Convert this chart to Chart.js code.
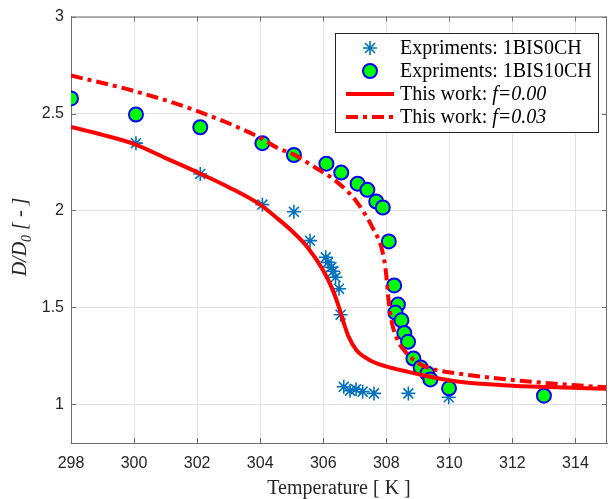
<!DOCTYPE html>
<html>
<head>
<meta charset="utf-8">
<script src="https://cdn.jsdelivr.net/npm/chart.js@4/dist/chart.umd.min.js"></script>
<style>
  html, body { margin: 0; padding: 0; background: #fff; overflow: hidden; }
  #wrap { width: 616px; height: 499px; }
</style>
</head>
<body>
<div id="wrap"><canvas id="chart" width="616" height="499"></canvas></div>
<script>
// tick labels
const xTicks = [298, 300, 302, 304, 306, 308, 310, 312, 314];
const yTicks = [1, 1.5, 2, 2.5, 3];

// Expriments: 1BIS0CH (stars)
const starX = [300.06, 302.1, 304.07, 305.07, 305.58, 306.08, 306.15, 306.26, 306.31, 306.39,
               306.5, 306.55, 306.65, 306.85, 307.04, 307.25, 307.61, 308.7, 309.98];
const starY = [2.347, 2.188, 2.03, 1.993, 1.844, 1.758, 1.732, 1.707, 1.686, 1.655,
               1.596, 1.462, 1.09, 1.07, 1.077, 1.065, 1.056, 1.056, 1.036];

// Expriments: 1BIS10CH (circles)
const circX = [298.0, 300.06, 302.1, 304.07, 305.07, 306.1, 306.57, 307.09, 307.4, 307.68,
               307.89, 308.08, 308.25, 308.37, 308.29, 308.48, 308.57, 308.69, 308.86, 309.09,
               309.3, 309.4, 309.99, 313.0];
const circY = [2.578, 2.495, 2.429, 2.347, 2.286, 2.241, 2.195, 2.138, 2.106, 2.046,
               2.015, 1.84, 1.613, 1.514, 1.473, 1.433, 1.368, 1.322, 1.236, 1.19,
               1.159, 1.128, 1.082, 1.044];

// This work: f=0.00
const solidX = [298.0, 299.0, 300.05, 301.0, 302.03, 303.0, 304.0, 304.5, 305.0, 305.5,
                306.0, 306.3, 306.5, 306.65, 306.8, 307.05, 307.45, 308.0, 308.7, 309.25,
                310.25, 312.0, 313.9, 315.0];
const solidY = [2.431, 2.39, 2.34, 2.27, 2.195, 2.12, 2.03, 1.965, 1.895, 1.81,
                1.69, 1.59, 1.5, 1.42, 1.35, 1.28, 1.23, 1.195, 1.167, 1.147,
                1.117, 1.096, 1.085, 1.08];

// This work: f=0.03
const dashX = [298.0, 300.05, 302.03, 304.01, 304.54, 305.06, 305.58, 306.41, 307.04, 307.56,
               307.87, 307.99, 308.07, 308.18, 308.36, 308.65, 309.0, 309.5, 310.3, 312.0,
               313.9, 315.0];
const dashY = [2.696, 2.614, 2.511, 2.374, 2.323, 2.289, 2.238, 2.15, 2.049, 1.912,
               1.793, 1.68, 1.54, 1.42, 1.33, 1.262, 1.213, 1.18, 1.158, 1.125,
               1.099, 1.087];

const pts = (xs, ys) => xs.map((x, i) => ({x: x, y: ys[i]}));

const RED = '#ff0000';
const STAR = '#0072bd';
const INK = '#262626';
const AXIS = '#6e6e6e';
const SERIF = '"Liberation Serif"';

const frame = {
    id: 'frame',
    afterDraw(chart) {
        const ctx = chart.ctx;
        const a = chart.chartArea;
        const xs = chart.scales.x, ys = chart.scales.y;
        ctx.save();

        // box top / right and inward ticks
        ctx.strokeStyle = AXIS;
        ctx.lineWidth = 1;
        ctx.beginPath();
        ctx.moveTo(a.left, a.top + 0.5);
        ctx.lineTo(a.right, a.top + 0.5);
        ctx.moveTo(a.right - 0.5, a.top);
        ctx.lineTo(a.right - 0.5, a.bottom);
        xTicks.forEach(v => {
            const px = Math.round(xs.getPixelForValue(v)) + 0.5;
            ctx.moveTo(px, a.bottom); ctx.lineTo(px, a.bottom - 5);
            ctx.moveTo(px, a.top); ctx.lineTo(px, a.top + 5);
        });
        yTicks.forEach(v => {
            const py = Math.round(ys.getPixelForValue(v)) + 0.5;
            ctx.moveTo(a.left, py); ctx.lineTo(a.left + 5, py);
            ctx.moveTo(a.right, py); ctx.lineTo(a.right - 5, py);
        });
        ctx.stroke();

        // x title
        ctx.fillStyle = INK;
        ctx.font = '20px ' + SERIF;
        ctx.textAlign = 'center';
        ctx.textBaseline = 'alphabetic';
        ctx.fillText('Temperature [ K ]', (a.left + a.right) / 2, 494);

        // y title, D/D0 [-]
        ctx.save();
        ctx.translate(26, 237);
        ctx.rotate(-Math.PI / 2);
        const big = 'italic 20px ' + SERIF;
        const small = 'italic 14px ' + SERIF;
        ctx.font = big;
        const w1 = ctx.measureText('D/D').width;
        const w3 = ctx.measureText(' [ - ]').width;
        ctx.font = small;
        const w2 = ctx.measureText('0').width;
        let x0 = -(w1 + w2 + w3) / 2;
        ctx.textAlign = 'left';
        ctx.font = big;
        ctx.fillText('D/D', x0, 0);
        ctx.font = small;
        ctx.fillText('0', x0 + w1, 5);
        ctx.font = big;
        ctx.fillText(' [ - ]', x0 + w1 + w2, 0);
        ctx.restore();

        // legend
        const bx = 335.5, by = 33.5, bw = 263, bh = 99;
        ctx.fillStyle = '#fff';
        ctx.fillRect(bx, by, bw, bh);
        ctx.strokeStyle = INK;
        ctx.lineWidth = 1;
        ctx.strokeRect(bx, by, bw, bh);

        const rows = [48, 71, 94, 117];
        const mx = 370, tx = 400;
        // star
        ctx.strokeStyle = STAR;
        ctx.lineWidth = 1.6;
        ctx.beginPath();
        for (let k = 0; k < 4; k++) {
            const ang = k * Math.PI / 4;
            const dx = Math.cos(ang) * 7, dy = Math.sin(ang) * 7;
            ctx.moveTo(mx - dx, rows[0] - dy);
            ctx.lineTo(mx + dx, rows[0] + dy);
        }
        ctx.stroke();
        // circle
        ctx.beginPath();
        ctx.arc(mx, rows[1], 7, 0, Math.PI * 2);
        ctx.fillStyle = '#00ff00';
        ctx.fill();
        ctx.strokeStyle = '#0000ff';
        ctx.lineWidth = 2;
        ctx.stroke();
        // lines
        ctx.strokeStyle = RED;
        ctx.lineWidth = 4;
        ctx.beginPath();
        ctx.moveTo(346, rows[2]); ctx.lineTo(394, rows[2]);
        ctx.stroke();
        ctx.setLineDash([12, 5, 4, 5]);
        ctx.beginPath();
        ctx.moveTo(346, rows[3]); ctx.lineTo(394, rows[3]);
        ctx.stroke();
        ctx.setLineDash([]);

        ctx.fillStyle = '#000';
        ctx.textAlign = 'left';
        ctx.textBaseline = 'middle';
        ctx.font = '20px ' + SERIF;
        ctx.fillText('Expriments: 1BIS0CH', tx, rows[0] + 1);
        ctx.fillText('Expriments: 1BIS10CH', tx, rows[1] + 1);
        [['f=0.00', rows[2]], ['f=0.03', rows[3]]].forEach(([lab, ry]) => {
            ctx.font = '20px ' + SERIF;
            const lead = 'This work: ';
            ctx.fillText(lead, tx, ry + 1);
            const lw = ctx.measureText(lead).width;
            ctx.font = 'italic 20px ' + SERIF;
            ctx.fillText(lab, tx + lw, ry + 1);
        });
        ctx.restore();
    }
};

new Chart(document.getElementById('chart'), {
    type: 'scatter',
    data: {
        datasets: [
            {
                label: 'This work: f=0.00',
                data: pts(solidX, solidY),
                showLine: true,
                borderColor: RED,
                borderWidth: 4,
                pointRadius: 0,
                cubicInterpolationMode: 'monotone',
                fill: false
            },
            {
                label: 'This work: f=0.03',
                data: pts(dashX, dashY),
                showLine: true,
                borderColor: RED,
                borderWidth: 4,
                borderDash: [12, 5, 4, 5],
                pointRadius: 0,
                cubicInterpolationMode: 'monotone',
                fill: false
            },
            {
                label: 'Expriments: 1BIS10CH',
                data: pts(circX, circY),
                pointStyle: 'circle',
                pointRadius: 7,
                pointBackgroundColor: '#00ff00',
                pointBorderColor: '#0000ff',
                pointBorderWidth: 2
            },
            {
                label: 'Expriments: 1BIS0CH',
                data: pts(starX, starY),
                pointStyle: 'star',
                pointRadius: 7,
                pointBorderColor: STAR,
                pointBackgroundColor: STAR,
                pointBorderWidth: 1.6
            }
        ]
    },
    options: {
        responsive: false,
        animation: false,
        layout: {padding: {top: 15, right: 1, left: 0, bottom: 0}},
        plugins: {legend: {display: false}, tooltip: {enabled: false}},
        scales: {
            x: {
                type: 'linear',
                min: 298,
                max: 315,
                afterBuildTicks: s => { s.ticks = xTicks.map(v => ({value: v})); },
                afterFit: s => { s.height = 56; },
                grid: {color: '#e3e3e3', drawTicks: false},
                border: {display: true, color: AXIS, width: 1},
                ticks: {
                    autoSkip: false, maxRotation: 0, padding: 11,
                    color: INK, font: {family: '"Liberation Sans"', size: 16},
                    callback: v => String(v)
                }
            },
            y: {
                type: 'linear',
                min: 0.8,
                max: 3,
                afterBuildTicks: s => { s.ticks = yTicks.map(v => ({value: v})); },
                afterFit: s => { s.width = 71; },
                grid: {color: '#e3e3e3', drawTicks: false},
                border: {display: true, color: AXIS, width: 1},
                ticks: {
                    padding: 7,
                    color: INK, font: {family: '"Liberation Sans"', size: 16},
                    callback: v => String(v)
                }
            }
        }
    },
    plugins: [frame]
});
</script>
</body>
</html>
